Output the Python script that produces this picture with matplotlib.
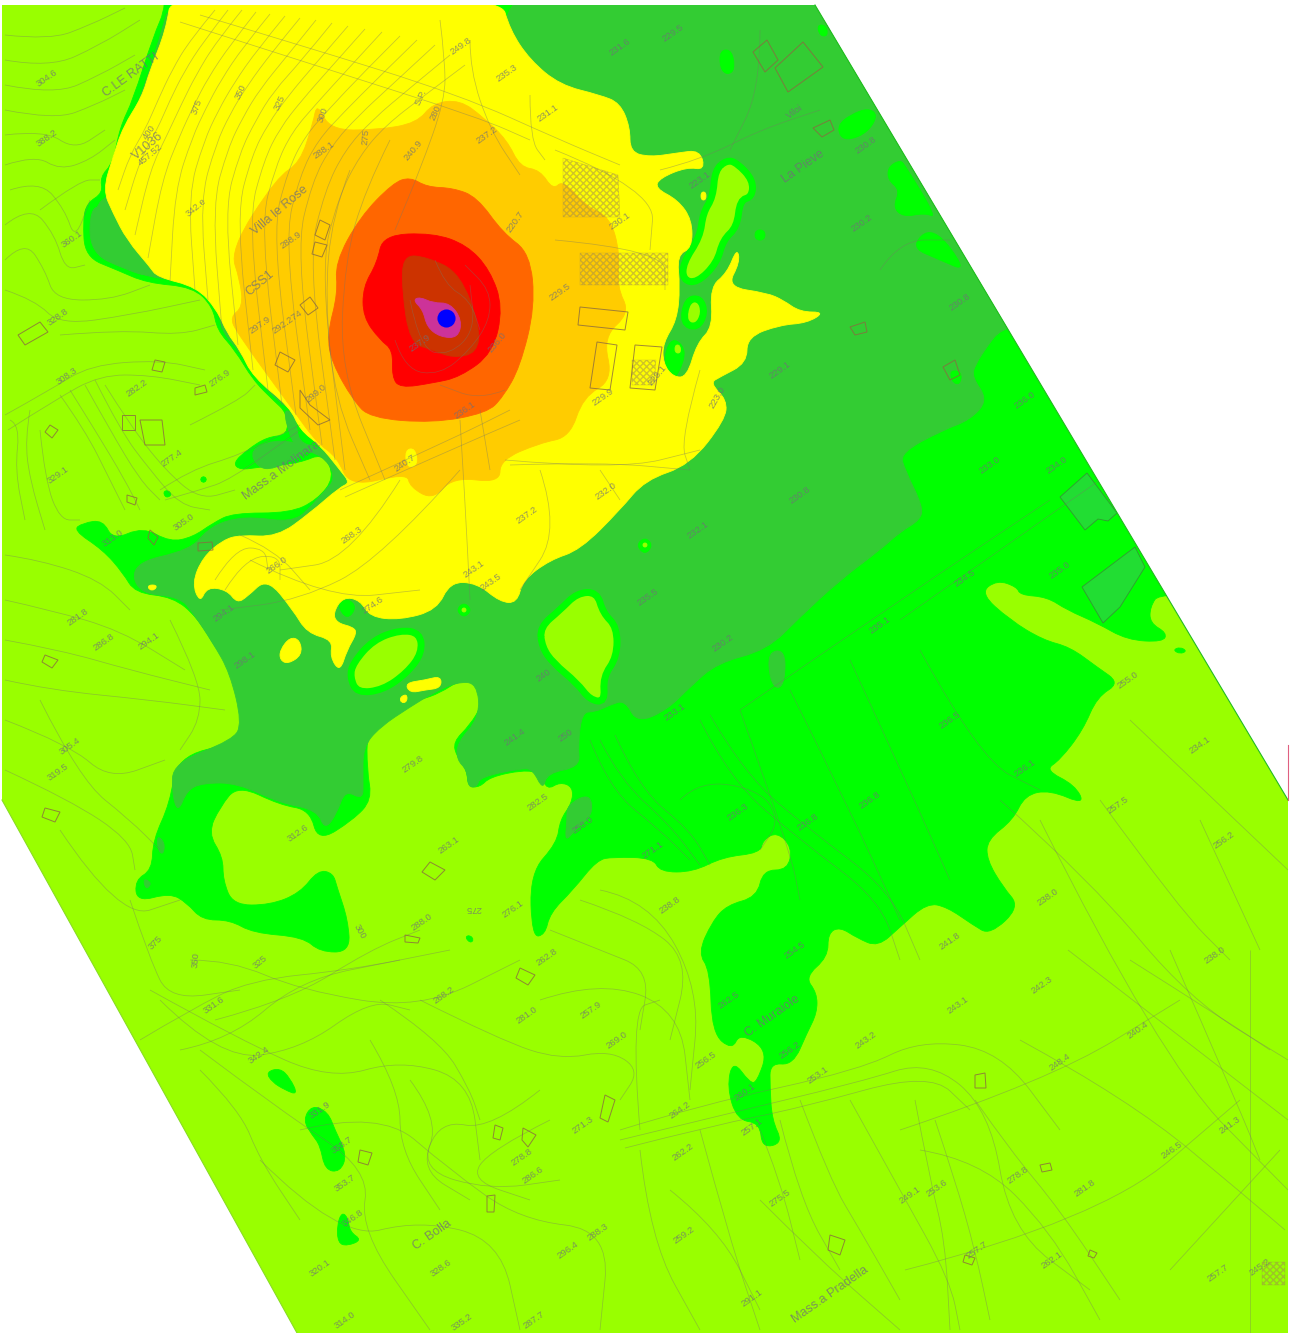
import matplotlib
matplotlib.use("Agg")
import matplotlib.pyplot as plt
from matplotlib.patches import Polygon, PathPatch
from matplotlib.path import Path

# noise map, everything in image pixels
footprint = [(2,5),(815,5),(1288,800),(1288,1333),(297,1333),(2,800)]

green_main = [(167,5),(153,37),(133,100),(120,127),(113,163),(100,177),(103,193),(87,203),(83,220),(85,257),(117,270),(147,283),(193,287),(213,307),(217,330),(235,350),(253,380),(273,400),(287,413),(288,435),(267,437),(247,450),(233,463),(240,470),(260,467),(300,463),(323,453),(335,477),(317,500),(290,513),(233,513),(213,523),(193,537),(170,542),(143,527),(113,540),(103,520),(83,523),(73,530),(103,550),(123,573),(135,593),(173,597),(197,617),(217,650),(233,670),(237,700),(245,727),(233,743),(177,757),(170,803),(153,840),(152,870),(135,880),(137,902),(170,893),(187,903),(202,920),(230,920),(253,933),(303,937),(320,952),(350,952),(348,920),(337,887),(333,873),(318,870),(300,893),(270,905),(233,905),(223,880),(223,857),(208,833),(220,807),(238,785),(280,805),(310,810),(318,842),(353,820),(372,800),(367,770),(367,730),(393,707),(420,700),(440,693),(460,680),(478,682),(482,705),(470,725),(453,742),(457,757),(467,770),(468,787),(480,787),(490,777),(523,770),(540,773),(547,790),(560,782),(573,787),(572,803),(560,820),(557,843),(530,873),(532,937),(545,935),(550,913),(573,890),(597,860),(613,857),(653,858),(660,872),(693,872),(723,857),(760,853),(763,840),(777,832),(792,847),(788,870),(763,870),(757,897),(727,905),(712,922),(698,953),(710,970),(712,1033),(732,1050),(740,1033),(768,1050),(757,1082),(750,1083),(733,1060),(727,1087),(737,1120),(760,1123),(762,1148),(783,1143),(772,1120),(770,1087),(770,1063),(793,1065),(807,1033),(817,1013),(817,993),(805,977),(828,957),(828,933),(840,927),(857,938),(878,947),(900,927),(927,903),(947,907),(973,925),(990,935),(1020,907),(1003,887),(987,860),(987,840),(1013,820),(1025,795),(1050,790),(1085,805),(1075,785),(1045,770),(1060,760),(1083,730),(1097,697),(1120,683),(1097,667),(1070,647),(1043,640),(1010,620),(980,593),(997,580),(1017,587),(1020,595),(1047,597),(1067,610),(1097,623),(1127,640),(1163,642),(1167,633),(1150,623),(1150,607),(1160,592),(1300,600),(900,-40),(160,-40)]
dark_main = [(505,-40),(900,-40),(1150,300),(1030,322),(1000,330),(988,345),(975,365),(972,377),(988,400),(970,420),(943,430),(900,453),(905,470),(923,507),(920,520),(900,532),(880,550),(840,580),(800,617),(767,650),(717,663),(690,687),(667,710),(637,723),(625,700),(610,705),(595,712),(582,712),(578,745),(580,767),(547,773),(543,790),(533,770),(523,768),(480,777),(477,787),(468,787),(467,770),(457,760),(457,743),(480,717),(477,683),(457,682),(433,693),(410,707),(380,727),(363,747),(363,780),(363,800),(345,790),(337,813),(325,830),(317,810),(280,803),(237,783),(203,783),(187,790),(178,813),(172,793),(173,763),(233,740),(242,723),(230,673),(213,643),(193,613),(180,597),(137,593),(132,563),(190,550),(207,530),(227,520),(253,517),(290,522),(310,510),(400,400),(505,100)]
dark_patches = [
    [(172,-5),(160,37),(140,100),(126,127),(118,163),(106,178),(110,195),(95,205),(92,250),(120,265),(150,278),(200,282),(250,200)],
    [(90,207),(107,207),(123,230),(130,253),(153,267),(150,277),(127,270),(90,253)],
    [(195,283),(218,308),(222,332),(240,352),(258,380),(280,403),(293,410),(300,380),(250,300)],
    [(283,408),(296,415),(298,443),(320,447),(340,465),(345,485),(325,510),(293,525),(325,497),(336,475),(322,455),(298,449),(290,437)],
    [(250,450),(273,440),(300,443),(313,450),(273,470),(257,467)],
    [(768,652),(785,650),(785,680),(778,690),(770,680)],
    [(567,805),(590,793),(593,815),(575,830),(565,842),(567,820)],
    [(157,835),(165,843),(163,855),(158,850)],
    [(143,878),(152,883),(146,890)],
]
field_lots = [
    [(1060,497),(1087,473),(1117,513),(1108,521),(1098,519),(1085,530)],
    [(1082,587),(1135,547),(1145,567),(1120,607),(1103,623)],
]
rimmed_islands = [
    [(540,627),(560,610),(577,593),(597,592),(603,613),(617,627),(617,657),(603,677),(605,702),(590,700),(577,683),(553,663),(542,647)],
    [(353,663),(373,640),(400,630),(420,633),(422,653),(407,673),(383,690),(357,693),(350,677)],
    [(727,160),(737,163),(753,180),(752,197),(740,200),(737,227),(723,240),(717,263),(697,283),(683,280),(683,263),(700,237),(703,213),(713,197),(715,170)],
    [(687,300),(700,298),(705,313),(697,328),(683,323)],
    [(607,722),(613,722),(613,742),(607,742)],
]
green_spots = [
    [(720,50),(732,50),(735,70),(727,75),(720,68)],
    [(838,125),(850,115),(868,108),(878,115),(868,132),(850,140),(840,137)],
    [(817,25),(826,25),(828,36),(820,36)],
    [(888,167),(900,160),(905,165),(937,218),(925,213),(903,217),(893,207),(900,190),(888,180)],
    [(910,247),(933,225),(968,272),(940,260)],
    [(755,230),(765,230),(765,240),(755,240)],
    [(950,370),(962,372),(960,385),(952,382)],
    [(672,338),(683,345),(685,358),(675,380),(668,378),(664,355)],
    [(636,545),(645,537),(653,545),(645,555)],
    [(456,610),(464,602),(472,610),(464,618)],
    [(337,605),(347,598),(357,607),(347,620)],
    [(266,1072),(280,1068),(290,1078),(298,1095),(285,1090),(272,1082)],
    [(303,1120),(312,1105),(328,1112),(335,1130),(347,1155),(340,1172),(325,1170),(320,1145),(312,1135)],
    [(337,1225),(342,1212),(348,1218),(350,1232),(362,1240),(347,1246),(338,1243)],
    [(465,937),(470,935),(474,940),(470,943)],
    [(1173,650),(1180,647),(1187,651),(1180,654)],
    [(163,492),(168,490),(172,495),(166,498)],
    [(200,478),(205,476),(207,481),(202,483)],
]
light_spots = [
    [(675,345),(680,345),(681,353),(675,353)],
    [(462,608),(466,608),(466,612),(462,612)],
    [(643,543),(647,543),(647,547),(643,547)],
]
yellow = [(172,-10),(500,-5),(510,30),(530,60),(560,85),(600,95),(620,103),(630,127),(630,152),(650,157),(677,153),(700,150),(705,170),(687,167),(660,178),(655,188),(678,200),(692,220),(692,248),(677,255),(680,287),(677,320),(663,343),(663,363),(673,377),(687,377),(697,343),(713,327),(710,287),(727,273),(737,248),(740,262),(727,287),(767,293),(783,300),(800,312),(825,312),(807,323),(780,325),(747,337),(747,363),(720,377),(710,383),(727,400),(725,420),(690,465),(645,480),(620,510),(580,550),(550,560),(523,580),(517,603),(500,602),(477,583),(450,582),(437,610),(400,620),(370,617),(360,600),(343,597),(333,613),(337,623),(353,627),(357,633),(347,650),(340,672),(330,657),(333,640),(307,633),(293,610),(267,578),(247,597),(237,603),(227,590),(207,587),(200,603),(192,583),(203,557),(223,540),(240,535),(277,537),(310,513),(340,487),(350,483),(340,470),(320,445),(300,430),(290,407),(253,377),(240,350),(227,333),(217,310),(197,287),(157,277),(150,267),(127,240),(113,213),(103,190),(113,157),(123,127),(142,97),(150,70),(166,30)]
yellow_spots = [
    [(280,650),(290,637),(300,640),(302,655),(288,664),(280,660)],
    [(148,585),(157,585),(155,590),(149,590)],
    [(405,683),(425,680),(441,676),(441,688),(425,690),(410,693)],
    [(400,697),(407,694),(407,702),(401,703)],
    [(701,192),(706,192),(706,200),(701,200)],
]
gold = [(317,103),(330,130),(377,130),(417,123),(433,103),(460,100),(483,117),(507,140),(520,167),(540,170),(553,190),(563,180),(587,207),(610,217),(620,253),(617,287),(630,313),(603,337),(613,380),(583,397),(570,437),(540,443),(500,460),(500,483),(453,477),(433,500),(410,487),(407,473),(350,487),(337,457),(317,443),(293,410),(237,333),(230,317),(243,307),(240,280),(230,250),(277,177),(300,163),(313,123)]
gold_notch = [[(405,450),(415,448),(418,465),(407,468)]]
orange = [(410,177),(427,187),(453,188),(477,197),(503,233),(530,253),(535,307),(520,367),(503,397),(487,413),(433,423),(370,418),(353,400),(332,363),(327,335),(338,293),(335,263),(360,217),(393,183)]
red = [(383,235),(433,233),(467,245),(490,270),(503,307),(493,353),(460,377),(433,383),(400,388),(392,377),(393,350),(380,340),(363,317),(363,287),(377,263)]
brown = [(403,255),(427,257),(460,273),(480,327),(477,353),(453,358),(433,350),(410,343),(402,290)]
pink = [(420,297),(433,303),(450,303),(462,320),(458,338),(440,337),(427,327),(423,310),(413,300)]
source_x = [446]
source_y = [318]

contours = [
    # top left, light green slope
    [(5,35),(50,40),(90,25),(125,8)],[(5,60),(50,68),(100,45),(140,20)],[(5,85),(55,95),(100,75),(135,55)],
    [(5,110),(55,120),(95,105),(125,90)],[(5,135),(45,130),(75,150),(105,130)],[(5,165),(35,155),(60,170),(90,160),(115,140)],
    [(10,190),(40,180),(65,210),(75,240),(90,200)],[(5,225),(30,205),(55,235),(65,270),(85,265)],
    [(5,260),(25,240),(45,270),(55,300),(110,300),(150,285)],[(5,290),(35,300),(60,325),(130,315),(200,300)],
    [(60,335),(120,330),(180,335),(215,325)],[(40,210),(80,180),(100,180)],
    # left, below the band
    [(10,420),(20,425),(15,470),(25,520)],[(30,410),(25,440),(30,480),(45,530)],[(40,430),(45,480),(60,520),(80,520)],
    [(5,415),(50,390),(90,365),(160,360),(205,370)],[(8,430),(55,400),(100,375),(150,375),(200,385)],
    [(60,395),(85,430),(110,480),(125,510)],[(70,390),(95,430),(125,480),(140,510)],[(85,385),(110,430),(140,480),(160,500)],
    [(95,380),(120,430),(150,470),(180,505),(210,510)],[(105,385),(130,425),(165,470),(200,500),(235,490)],
    [(160,490),(190,470),(240,455),(300,425)],[(165,500),(200,490),(230,480),(300,430)],[(190,425),(240,400),(255,385)],
    [(5,555),(40,560),(100,580),(130,610)],[(5,600),(50,610),(120,630),(185,670)],[(5,640),(60,650),(130,670),(210,690)],
    [(5,680),(50,690),(150,700),(225,710)],[(5,720),(70,745),(110,780),(165,760)],[(5,770),(70,800),(130,840),(135,870)],
    [(170,620),(200,680),(200,720),(180,750)],[(40,700),(80,780),(130,820),(160,850)],
    # yellow slope
    [(215,10),(190,40),(172,70),(158,100),(145,130),(130,155),(118,190)],[(228,10),(203,42),(184,72),(170,100),(157,130),(140,160),(125,210)],
    [(242,10),(216,42),(196,75),(182,103),(168,133),(150,170),(135,235)],[(256,12),(230,45),(208,78),(194,105),(180,135),(162,180),(148,258)],
    [(270,14),(243,47),(221,80),(206,108),(192,138),(175,190),(170,282)],[(285,16),(257,50),(234,83),(218,111),(204,141),(188,195),(195,290)],
    [(300,18),(272,52),(247,86),(230,114),(216,144),(200,200),(208,300)],[(316,20),(287,56),(260,89),(243,117),(228,148),(212,205),(222,330)],
    [(332,23),(302,60),(273,92),(256,120),(240,152),(224,210),(238,345)],[(348,26),(316,63),(288,96),(268,124),(252,155),(236,215),(253,370)],
    [(365,29),(332,66),(302,100),(280,128),(264,160),(248,220),(268,390)],[(382,32),(347,70),(316,104),(292,132),(276,165),(260,225),(282,405)],
    [(400,36),(362,74),(330,108),(305,136),(288,170),(272,232),(296,415)],[(417,40),(378,78),(344,112),(318,140),(300,175),(284,240),(310,430)],
    [(435,45),(395,82),(358,116),(332,145),(312,182),(296,250),(322,445)],[(450,55),(410,88),(372,120),(345,150),(325,190),(308,260),(335,460)],
    [(465,65),(425,95),(386,125),(360,155),(338,198),(320,270),(345,470)],[(350,170),(332,215),(325,300),(335,400),(370,480)],
    [(390,140),(365,190),(345,260),(340,370),(385,480)],
    [(200,15),(300,45),(460,95),(560,140),(620,165)],[(180,22),(330,70),(480,118),(530,140)],
    [(440,20),(445,60),(445,100),(420,170),(395,230)],[(470,40),(470,70),(490,130),(520,175)],[(530,95),(530,140),(545,160)],
    # around the source, pale lines
    [(395,340),(405,370),(440,375),(470,350),(490,320),(490,290),(465,265)],[(410,300),(420,350),(450,355),(475,330),(470,285)],
    [(435,260),(445,285),(470,300),(480,330)],[(505,390),(480,400),(440,385)],
    # yard and roads
    [(460,420),(465,500),(470,600)],[(480,410),(490,470)],[(505,460),(620,470),(700,450)],[(510,465),(600,462),(690,470)],
    [(555,150),(655,190),(650,250)],[(555,240),(665,250),(665,290)],[(700,370),(680,440),(690,470)],
    [(460,470),(380,560),(300,600),(220,610)],[(400,480),(350,560),(280,570)],[(250,560),(330,600),(420,590)],
    [(540,470),(560,530),(520,590)],[(600,470),(620,500)],[(340,490),(450,440),(510,410)],[(345,497),(455,448),(520,420)],
    [(215,580),(235,548),(265,548),(268,570)],[(225,590),(245,558),(280,555),(280,580)],[(240,535),(275,550),(310,590)],
    # upper right, hardly visible
    [(660,170),(700,160),(760,130),(820,110)],[(760,30),(760,90),(730,150)],[(880,270),(900,240),(950,240)],
    # green plain
    [(740,710),(790,850),(800,900)],[(790,690),(850,810),(900,920)],[(850,660),(910,790),(950,880)],[(920,650),(980,760),(1040,790)],
    [(740,710),(900,600),(1050,500)],[(900,620),(1100,480)],[(1000,800),(1090,880),(1190,1000),(1288,1060)],
    [(590,740),(610,790),(660,830),(690,860)],[(600,740),(620,780),(670,825),(700,865)],[(615,735),(640,790),(690,830),(710,865)],
    [(700,720),(730,780),(800,840),(880,900),(900,960)],[(710,715),(745,775),(810,830),(890,890),(920,960)],
    [(680,800),(700,780),(760,790),(780,820),(760,850)],
    # light green below the plume
    [(190,960),(230,960),(300,990),(420,1010),(520,960)],[(130,900),(150,960),(170,1000),(240,990)],
    [(140,1040),(190,1010),(250,980),(350,970),(450,950)],[(60,830),(120,920),(180,900)],
    [(180,1050),(230,1040),(300,980),(400,960)],[(215,1020),(290,1000),(370,950),(420,930)],
    [(160,1000),(220,1060),(300,1050),(370,1000),(410,1010)],[(200,1070),(240,1110),(260,1160),(300,1220)],
    [(150,990),(240,1040),(330,1080),(400,1060),(470,1080),(480,1160)],[(200,1050),(280,1110),(370,1170),(360,1230),(430,1330)],
    [(260,1160),(340,1240),(420,1220),(500,1240),(520,1330)],[(300,1130),(380,1110),(450,1170),(520,1220),(610,1230),(600,1330)],
    [(420,1000),(500,1040),(560,1060),(610,1050),(640,1070),(620,1100)],[(540,1000),(600,980),(680,1010),(690,1100)],
    [(580,900),(640,920),(690,960),(670,1040)],[(600,890),(650,900),(700,990),(690,1090)],[(550,930),(600,950),(650,970),(640,1030)],
    [(380,1000),(440,1040),(470,1090),(480,1120)],[(410,1080),(440,1120),(420,1170),(470,1200)],[(370,1040),(400,1090),(400,1150),(440,1210)],
    [(540,1090),(490,1130),(440,1120),(420,1170),(490,1190),(560,1180)],[(550,1120),(490,1150),(470,1180),(530,1200)],
    [(620,1130),(700,1105),(860,1070),(920,1040),(1000,1050),(1060,1130)],[(620,1140),(710,1118),(860,1082),(930,1060),(990,1110),(1010,1230),(1090,1290)],
    [(625,1148),(715,1125),(800,1108),(930,1072),(970,1110)],
    [(760,1200),(820,1260),(900,1330)],[(850,1100),(900,1190),(950,1280),(960,1330)],[(920,1150),(980,1160),(1050,1230),(1100,1320)],
    [(935,1120),(955,1180),(975,1250),(990,1320)],[(915,1100),(930,1180),(945,1240),(950,1330)],[(975,1100),(1010,1150),(1060,1210),(1120,1300)],
    [(1020,1040),(1130,1100),(1250,1200),(1285,1230)],[(1040,820),(1160,1060),(1288,1190)],[(1130,720),(1288,870)],
    [(1130,960),(1225,1020),(1270,1050)],[(1170,950),(1240,1110),(1260,1160)],[(1068,950),(1288,1120)],[(1250,950),(1250,1333)],
    [(900,1130),(1050,1080),(1180,1000)],[(905,1270),(1100,1220),(1240,1100)],[(1170,1270),(1280,1150)],
    [(640,1150),(650,1240),(700,1330)],[(670,1190),(720,1230),(760,1310)],[(700,1130),(730,1240),(760,1330)],
    [(780,1120),(800,1200),(840,1270)],[(800,1100),(830,1180),(860,1230),(900,1300)],
    [(640,1130),(630,1010),(660,1000)],[(760,1130),(780,1180),(800,1260)],
    [(1100,800),(1180,910),(1230,960)],[(1200,820),(1260,950)],
]
buildings = [
    [(753,52),(767,40),(778,60),(765,72)],[(775,68),(803,42),(823,67),(788,92)],[(813,128),(830,120),(834,130),(822,137)],
    [(580,307),(628,312),(625,330),(578,325)],[(597,342),(617,345),(610,390),(590,388)],[(635,345),(662,347),(655,390),(630,388)],
    [(850,327),(865,322),(867,332),(855,335)],[(943,367),(955,360),(960,375),(950,380)],
    [(280,352),(295,360),(288,372),(275,365)],[(315,242),(327,245),(322,257),(312,254)],[(300,305),(310,297),(318,308),(308,315)],
    [(300,390),(310,405),(330,420),(318,425),(300,408)],[(320,220),(330,225),(325,240),(315,235)],
    [(975,1075),(985,1073),(986,1088),(975,1088)],[(487,1196),(495,1195),(494,1212),(487,1212)],[(360,1150),(372,1153),(368,1165),(358,1162)],
    [(830,1235),(845,1240),(840,1255),(828,1250)],[(523,1128),(536,1135),(528,1147),(522,1140)],[(430,862),(445,870),(435,880),(422,872)],
    [(45,655),(58,660),(52,668),(42,662)],[(45,808),(60,812),(55,822),(42,817)],[(18,335),(40,322),(48,332),(25,345)],
    [(122,415),(135,415),(135,430),(122,430)],[(140,420),(162,420),(165,445),(145,445)],[(50,425),(58,430),(52,438),(45,432)],
    [(195,388),(205,385),(207,392),(195,395)],[(155,360),(165,362),(162,372),(152,370)],[(127,495),(137,498),(135,505),(127,502)],
    [(150,530),(158,537),(154,545),(148,538)],[(198,543),(212,542),(213,550),(198,551)],[(605,1095),(615,1100),(608,1122),(600,1118)],
    [(495,1125),(503,1128),(500,1140),(493,1138)],[(1090,1250),(1097,1253),(1094,1258),(1088,1256)],[(1040,1165),(1050,1163),(1052,1170),(1042,1172)],
    [(965,1255),(975,1258),(972,1265),(963,1262)],[(520,968),(535,975),(528,985),(516,978)],[(405,935),(420,938),(418,943),(405,942)],
]
hatched = [
    [(563,158),(618,175),(620,217),(563,217)],[(580,253),(668,253),(668,285),(580,285)],[(632,360),(656,360),(654,385),(632,385)],
    [(1262,1262),(1285,1262),(1285,1285),(1262,1285)],
]
label_rows = [
    ("C.LE RATTI",131,75,36),("304.6",47,78,35),("388.2",47,138,35),("400",149,132,55),("V1036",148,146,40),("457.52",150,155,40),
    ("375",197,107,70),("350",241,92,65),("325",280,103,65),("300",323,115,70),("342.e",196,207,40),("360.1",72,239,35),
    ("288.1",324,150,35),("275",366,137,85),("240.9",413,150,50),("280",436,113,65),("249.8",461,46,35),("235.3",507,73,35),
    ("231.1",548,113,35),("237.2",487,135,35),("220.7",515,222,55),("230.1",620,221,35),("229.5",560,292,35),
    ("Villa le Rose",280,210,40),("288.9",291,240,35),("CSS1",260,283,40),("292.274",287,322,35),("297.9",260,325,35),
    ("299.0",316,393,40),("237.9",420,343,35),("236.0",497,342,50),("236.1",465,410,35),("229.9",603,397,35),("S.P.",421,97,65),
    ("228.1",657,375,50),("223.0",717,397,60),("Mass.a Molinara",282,470,36),("240.7",405,463,35),("232.0",606,491,35),
    ("237.2",527,515,35),("268.3",352,535,35),("266.0",277,565,35),("243.1",474,569,35),("243.5",491,582,35),("274.6",373,605,35),
    ("281.8",78,617,35),("286.8",104,642,35),("294.1",149,641,35),("305.4",70,746,35),("319.5",58,772,35),("279.8",413,764,35),
    ("312.6",298,833,35),("282.5",538,802,35),("263.1",449,845,35),("276.1",513,909,35),("238.8",670,905,35),("275",473,908,180),
    ("288.0",422,922,35),("262.8",547,957,35),("268.2",444,995,35),("281.0",527,1015,35),("257.9",591,1010,35),("269.0",617,1040,35),
    ("300",360,932,-60),("325",260,962,40),("350",196,960,85),("375",155,943,45),("331.6",214,1005,35),("342.4",259,1055,35),
    ("331.9",320,1110,35),("358.7",342,1145,35),("353.7",345,1183,35),("346.8",353,1218,35),("C. Bolla",432,1235,35),("320.1",320,1268,35),
    ("328.6",441,1268,35),("314.0",345,1320,35),("335.2",462,1322,35),("287.7",534,1320,35),("296.4",568,1250,35),("288.3",598,1232,35),
    ("286.6",533,1175,35),("278.8",522,1157,35),("271.3",583,1125,35),("264.2",680,1110,35),("262.2",683,1152,35),("259.2",684,1235,35),
    ("256.5",706,1060,35),("253.1",818,1075,35),("260.1",745,1092,35),("257.1",752,1127,35),("241.8",950,941,35),("243.1",958,1005,35),
    ("243.2",866,1040,35),("248.4",1060,1062,35),("242.3",1042,985,35),("240.4",1138,1030,35),("238.0",1048,897,35),("238.0",1215,955,35),
    ("256.2",1224,840,35),("257.5",1118,805,35),("234.1",1200,745,35),("255.0",1128,680,35),("241.3",1230,1125,35),("246.5",1172,1150,35),
    ("278.8",1018,1175,35),("281.8",1085,1188,35),("249.1",910,1195,35),("253.6",937,1188,35),("275.5",780,1198,35),("257.7",977,1250,35),
    ("262.1",1052,1260,35),("257.7",1218,1273,35),("245.2",1260,1267,35),("291.1",752,1298,35),("Mass.a Pradella",830,1295,35),
    ("C. Muraiole",772,1016,35),("La Pieve",803,167,35),("Viloi",795,112,35),("254.5",795,950,35),("262.5",729,1000,35),("256.2",790,1050,35),
    ("308.3",67,376,35),("276.9",220,378,35),("282.2",137,388,35),("277.4",172,458,35),("329.1",58,475,35),("328.8",58,317,35),
    ("236.3",738,812,35),("236.8",808,822,35),("236.8",870,800,35),("236.5",950,720,35),("236.1",1025,768,35),("230.8",800,495,35),
    ("234.5",965,578,35),("235.1",880,625,35),("230.2",723,643,35),("232.1",698,530,35),("235.5",648,597,35),("233.1",675,712,35),
    ("240",544,675,35),("241.4",515,737,35),("250",566,735,35),("258.0",583,825,35),("271.1",653,850,35),("231.6",620,47,35),
    ("229.5",673,33,35),("230.8",866,145,35),("230.2",862,223,35),("230.8",960,302,35),("229.1",780,370,35),("233.0",990,465,35),
    ("234.0",1057,465,35),("235.0",1060,570,35),("223.1",700,180,35),("236.0",1025,400,35),("313.0",113,538,35),("305.0",184,522,35),
    ("298.1",245,660,35),("294.1",224,613,35),
]
labels_big = ["C.LE RATTI","Villa le Rose","Mass.a Molinara","C. Bolla","Mass.a Pradella","C. Muraiole","La Pieve","CSS1","V1036"]

fig = plt.figure(figsize=(12.95,13.33), dpi=100)
ax = fig.add_axes([0,0,1,1])
ax.set_xlim(0,1295)
ax.set_ylim(1333,0)
ax.axis("off")

clip = Polygon(footprint, closed=True, facecolor="#99ff00", edgecolor="none", zorder=0)
ax.add_patch(clip)


def rounded(points, closed=True):
    # quadratic curves through the edge midpoints, so the blobs get no corners
    mid = lambda a, b: ((a[0]+b[0])/2.0, (a[1]+b[1])/2.0)
    if closed:
        verts = [mid(points[-1], points[0])]
        codes = [Path.MOVETO]
        for i in range(len(points)):
            verts += [points[i], mid(points[i], points[(i+1) % len(points)])]
            codes += [Path.CURVE3, Path.CURVE3]
    else:
        verts = [points[0]]
        codes = [Path.MOVETO]
        for i in range(1, len(points)-1):
            verts += [points[i], mid(points[i], points[i+1])]
            codes += [Path.CURVE3, Path.CURVE3]
        verts.append(points[-1])
        codes.append(Path.LINETO)
    return Path(verts, codes)


def fill(points, color, z, edge=None, lw=0.6):
    p = PathPatch(rounded(points), facecolor=color, edgecolor=edge or color, lw=lw, zorder=z)
    ax.add_patch(p)
    p.set_clip_path(clip)


fill(green_main, "#00ff00", 1)
fill(dark_main, "#33cc33", 2)
for d in dark_patches:
    fill(d, "#33cc33", 2)
for s in green_spots:
    fill(s, "#00ff00", 2.5)
for s in light_spots:
    fill(s, "#99ff00", 2.6)
for s in rimmed_islands:
    fill(s, "#99ff00", 2.7, edge="#00ff00", lw=5)
for f in field_lots:
    p = Polygon(f, closed=True, facecolor="#22dd33", edgecolor="#339933", lw=0.6, zorder=2.8)
    ax.add_patch(p)
    p.set_clip_path(clip)
fill(yellow, "#ffff00", 3)
for s in yellow_spots:
    fill(s, "#ffff00", 3)
fill(gold, "#ffcc00", 4)
for s in gold_notch:
    fill(s, "#ffff00", 4.5)
fill(orange, "#ff6600", 6)
fill(red, "#ff0000", 7)
fill(brown, "#cc3300", 8)
fill(pink, "#cc3399", 9)
ax.scatter(source_x, source_y, s=170, color="#0000ff", linewidths=0, zorder=10)

# hatched lots sit on top of the colours
for h in hatched:
    p = Polygon(h, closed=True, facecolor="none", edgecolor="#a08a50", hatch="xxxxx", lw=0.3, alpha=0.5, zorder=11)
    ax.add_patch(p)
    p.set_clip_path(clip)

for line in contours:
    c = PathPatch(rounded(line, closed=False), facecolor="none", edgecolor="#777766", lw=0.55, alpha=0.42, zorder=12)
    ax.add_patch(c)
    c.set_clip_path(clip)
for b in buildings:
    p = Polygon(b, closed=True, facecolor="none", edgecolor="#8a6a40", lw=0.7, alpha=0.8, zorder=13)
    ax.add_patch(p)
    p.set_clip_path(clip)

for t, x, y, r in label_rows:
    size = 9 if t in labels_big else 6.8
    ax.text(x, y, t, rotation=r, ha="center", va="center", fontsize=size, color="#6f6f78", alpha=0.75, zorder=14, family="Liberation Sans")

# thin line on the edges of the map
ax.plot([815,1288],[5,800], color="#22bb22", lw=0.8, zorder=15)
ax.plot([2,297],[800,1333], color="#88dd22", lw=0.8, zorder=15)
ax.plot([1288,1288],[745,800], color="#e06080", lw=0.8, zorder=15)

fig.savefig("out.png", dpi=100)
